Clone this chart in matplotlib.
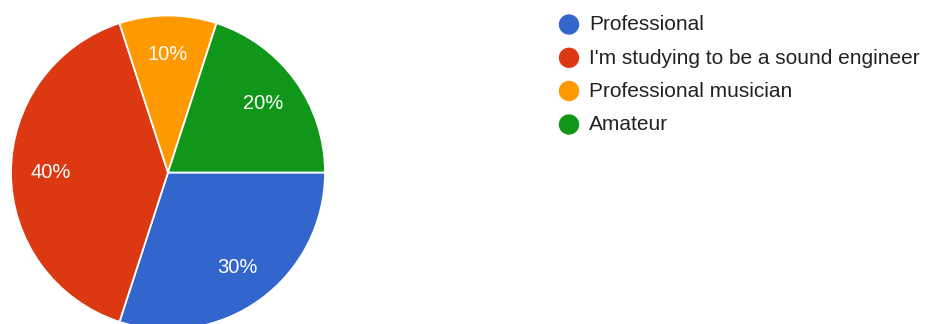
import matplotlib.pyplot as plt

categorias = ['Professional', "I'm studying to be a sound engineer",
              'Professional musician', 'Amateur']
valores = [30, 40, 10, 20]
cores = ['#3366cc', '#dc3912', '#ff9900', '#109618']

W, H = 925, 324
fig = plt.figure(figsize=(W / 100, H / 100), dpi=100)
plt.rcParams['font.family'] = ['Liberation Sans', 'DejaVu Sans']

# Pizza: centro (168, 172.5) px, raio 157 px
cx, cy, r = 168, 172.5, 157
ax = fig.add_axes([(cx - r) / W, (H - cy - r) / H, 2 * r / W, 2 * r / H])
wedges, textos = ax.pie(valores, colors=cores, startangle=0, counterclock=False,
                        labels=[f'{v}%' for v in valores], labeldistance=0.75,
                        wedgeprops=dict(edgecolor='white', linewidth=1.3),
                        textprops=dict(color='white', fontsize=14.5))
for t in textos:
    t.set_horizontalalignment('center')
    t.set_verticalalignment('center')
ax.set_xlim(-1, 1)
ax.set_ylim(-1, 1)
ax.set_aspect('equal')
ax.axis('off')

# Legenda desenhada em coordenadas de pixel
leg = fig.add_axes([0, 0, 1, 1])
leg.set_xlim(0, W)
leg.set_ylim(H, 0)
leg.axis('off')
linhas_y = [24.5, 57.8, 91, 124.5]
for nome, cor, y in zip(categorias, cores, linhas_y):
    leg.scatter(569, y, s=215, color=cor, edgecolors='none')
    leg.text(589, y + 0.5, nome, fontsize=15, color='#222222', va='center', ha='left')

fig.savefig('out.png', dpi=100)
